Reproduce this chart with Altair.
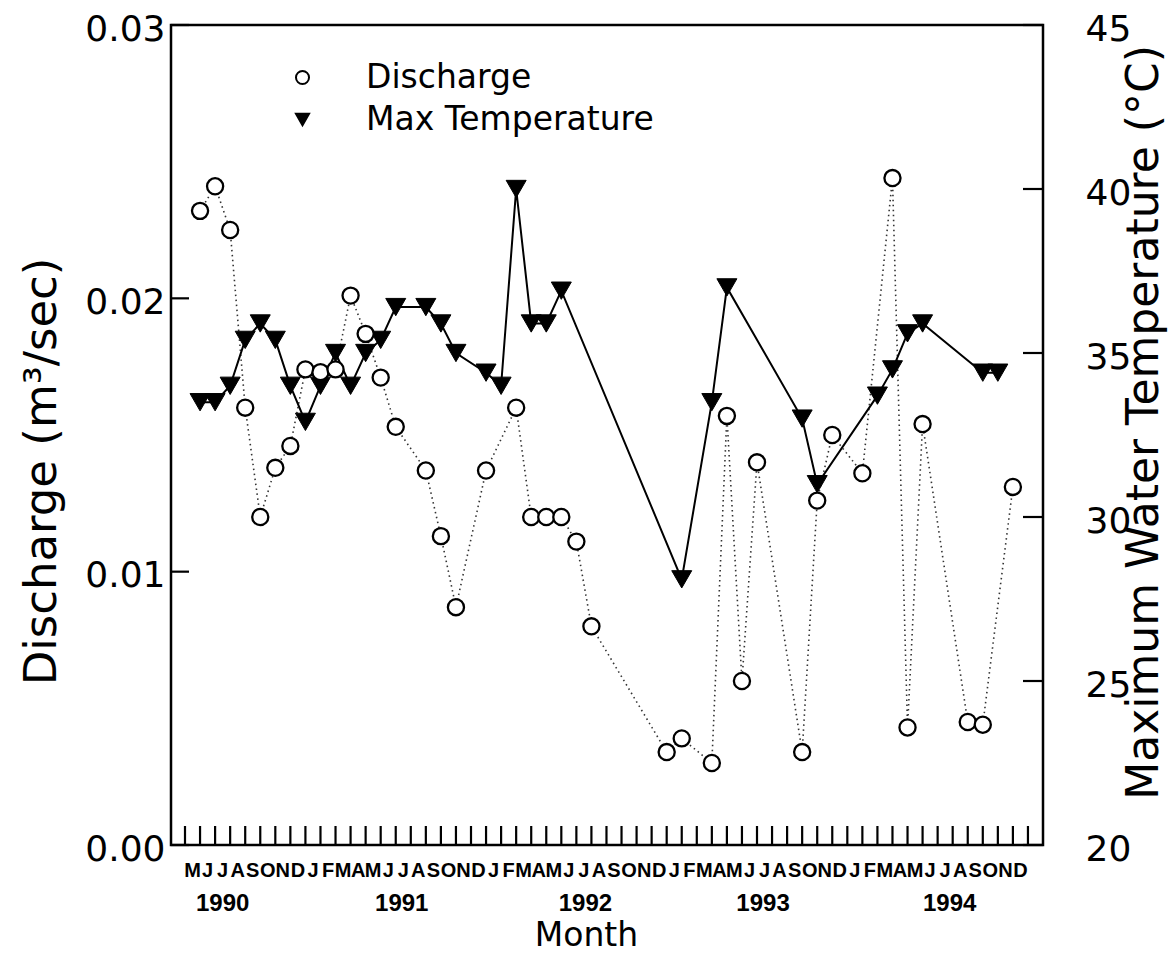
import altair as alt
import pandas as pd

# ---------------- data ----------------
# month index: 0 = May 1990, 1 = June 1990, ... 55 = December 1994
q_month = [1, 2, 3, 4, 5, 6, 7, 8, 9, 10, 11, 12, 13, 14, 16, 17, 18, 20, 22, 23,
           24, 25, 26, 27, 32, 33, 35, 36, 37, 38, 41, 42, 43, 45, 47, 48, 49, 52, 53, 55]
q_value = [0.0232, 0.0241, 0.0225, 0.0160, 0.0120, 0.0138, 0.0146, 0.0174, 0.0173, 0.0174,
           0.0201, 0.0187, 0.0171, 0.0153, 0.0137, 0.0113, 0.0087, 0.0137, 0.0160, 0.0120,
           0.0120, 0.0120, 0.0111, 0.0080, 0.0034, 0.0039, 0.0030, 0.0157, 0.0060, 0.0140,
           0.0034, 0.0126, 0.0150, 0.0136, 0.0244, 0.0043, 0.0154, 0.0045, 0.0044, 0.0131]

t_month = [1, 2, 3, 4, 5, 6, 7, 8, 9, 10, 11, 12, 13, 14, 16, 17, 18, 20, 21, 22,
           23, 24, 25, 33, 35, 36, 41, 42, 46, 47, 48, 49, 53, 54]
t_value = [33.5, 33.5, 34.0, 35.4, 35.9, 35.4, 34.0, 32.9, 34.0, 35.0,
           34.0, 35.0, 35.4, 36.4, 36.4, 35.9, 35.0, 34.4, 34.0, 40.0,
           35.9, 35.9, 36.9, 28.1, 33.5, 37.0, 33.0, 31.0, 33.7, 34.5,
           35.6, 35.9, 34.4, 34.4]

series_names = ["Discharge", "Max Temperature"]

month_letters = list("MJJASOND" + "JFMAMJJASOND" * 4)
month_centres = [i + 0.5 for i in range(len(month_letters))]
month_ticks = list(range(len(month_letters) + 1))

year_labels = ["1990", "1991", "1992", "1993", "1994"]
year_pos = [2.5, 14.4, 26.6, 38.4, 50.8]

q_ticks = [0.0, 0.01, 0.02, 0.03]
t_ticks = [20, 25, 30, 35, 40, 45]

# ---------------- layout / style ----------------
W, H = 872, 820
FONT = "DejaVu Sans"
LIB = "Liberation Sans"
NARROW = "Liberation Sans Narrow, Liberation Sans"

xscale = alt.Scale(domain=[-0.93, 57.0], nice=False, zero=False)
yq = alt.Scale(domain=[0, 0.03], nice=False, zero=False)
yt = alt.Scale(domain=[20, 45], nice=False, zero=False)

x_axis = alt.Axis(labels=False, ticks=False, domain=False, grid=False,
                  title="Month", titleFont=FONT, titleFontSize=33,
                  titleFontWeight="normal", titleColor="black",
                  titleX=415, titleY=90, titleBaseline="middle", titleAlign="center")

axis_left = alt.Axis(values=q_ticks, format=".2f", ticks=False, domain=False, grid=False,
                     labelFont=FONT, labelFontSize=36, labelColor="black", labelPadding=6,
                     labelOffset=4,
                     title="Discharge (m³/sec)", titleFont=FONT, titleFontSize=45,
                     titleFontWeight="normal", titleColor="black",
                     titleX=-130, titleY=446, titleAngle=270,
                     titleBaseline="middle", titleAlign="center")

axis_right = alt.Axis(orient="right", values=t_ticks, ticks=False, domain=False, grid=False,
                      labelFont=FONT, labelFontSize=36, labelColor="black", labelPadding=42,
                      labelOffset=4,
                      title="Maximum Water Temperature (°C)", titleFont=FONT, titleFontSize=44,
                      titleFontWeight="normal", titleColor="black",
                      titleX=101, titleY=397, titleAngle=270,
                      titleBaseline="middle", titleAlign="center")


def X(field="m"):
    return alt.X(f"{field}:Q", scale=xscale, axis=x_axis)


legend = alt.Legend(title=None, orient="none", legendX=115, legendY=36,
                    labelFont=FONT, labelFontSize=33, labelColor="black", labelLimit=0,
                    labelOffset=47, symbolSize=170, symbolStrokeColor="black",
                    symbolStrokeWidth=2, rowPadding=8, padding=0)

shape_enc = alt.Shape("series:N", scale=alt.Scale(domain=series_names,
                                                  range=["circle", "triangle-down"]),
                      legend=legend)
fill_enc = alt.Fill("series:N", scale=alt.Scale(domain=series_names,
                                                range=["white", "black"]),
                    legend=legend)
stroke_enc = alt.Stroke("series:N", scale=alt.Scale(domain=series_names,
                                                    range=["black", "black"]),
                        legend=legend)

qdf = pd.DataFrame({"m": q_month, "q": q_value, "series": series_names[0]})
tdf = pd.DataFrame({"m": t_month, "t": t_value, "series": series_names[1]})

# discharge line + left ticks (left axis)
d_line = alt.Chart(qdf).mark_line(stroke="#333333", strokeWidth=1.6,
                                  strokeDash=[1.5, 3.5]).encode(
    x=X(), y=alt.Y("q:Q", scale=yq, axis=axis_left))
d_ticks = alt.Chart(pd.DataFrame({"q": q_ticks})).mark_rule(
    color="black", strokeWidth=2.2).encode(
    y=alt.Y("q:Q", scale=yq, axis=axis_left), x=alt.value(0), x2=alt.value(18))
left_group = alt.layer(d_line, d_ticks)

# temperature (right axis)
t_line = alt.Chart(tdf).mark_line(color="black", strokeWidth=2).encode(
    x=X(), y=alt.Y("t:Q", scale=yt, axis=axis_right))
t_ticks_layer = alt.Chart(pd.DataFrame({"t": t_ticks})).mark_rule(
    color="black", strokeWidth=2.2).encode(
    y=alt.Y("t:Q", scale=yt, axis=axis_right), x=alt.value(W - 20), x2=alt.value(W))
t_pts = alt.Chart(tdf).mark_point(filled=False, size=400, strokeWidth=1,
                                  opacity=1, fillOpacity=1).encode(
    x=X(), y=alt.Y("t:Q", scale=yt, axis=axis_right),
    shape=shape_enc, fill=fill_enc, stroke=stroke_enc)
right_group = alt.layer(t_line, t_ticks_layer, t_pts)

# discharge circles drawn on top (same fixed domain, no extra axis)
d_pts = alt.Chart(qdf).mark_point(filled=False, size=260, strokeWidth=2.3,
                                  opacity=1, fillOpacity=1).encode(
    x=X(), y=alt.Y("q:Q", scale=yq, axis=None),
    shape=shape_enc, fill=fill_enc, stroke=stroke_enc)

# x ticks (inward) and month / year labels
x_ticks = alt.Chart(pd.DataFrame({"m": month_ticks})).mark_rule(
    color="black", strokeWidth=2.2).encode(
    x=X(), y=alt.value(H - 19), y2=alt.value(H))
m_text = alt.Chart(pd.DataFrame({"m": month_centres, "lab": month_letters})).mark_text(
    font=NARROW, fontSize=20, fontWeight="bold", color="black",
    baseline="middle", align="center").encode(
    x=X(), y=alt.value(845.5), text="lab:N")
y_text = alt.Chart(pd.DataFrame({"m": year_pos, "lab": year_labels})).mark_text(
    font=LIB, fontSize=24, fontWeight="bold", color="black",
    baseline="middle", align="center").encode(
    x=X(), y=alt.value(879), text="lab:N")

chart = alt.layer(left_group, right_group, d_pts, x_ticks, m_text, y_text).resolve_scale(
    y="independent"
).properties(
    width=W, height=H,
    autosize=alt.AutoSizeParams(type="none"),
    padding={"left": 163, "top": 17, "right": 125, "bottom": 110},
    background="white",
).configure_view(stroke="black", strokeWidth=2.5)

chart.save("out.html", embed_options={"renderer": "svg", "actions": False})
